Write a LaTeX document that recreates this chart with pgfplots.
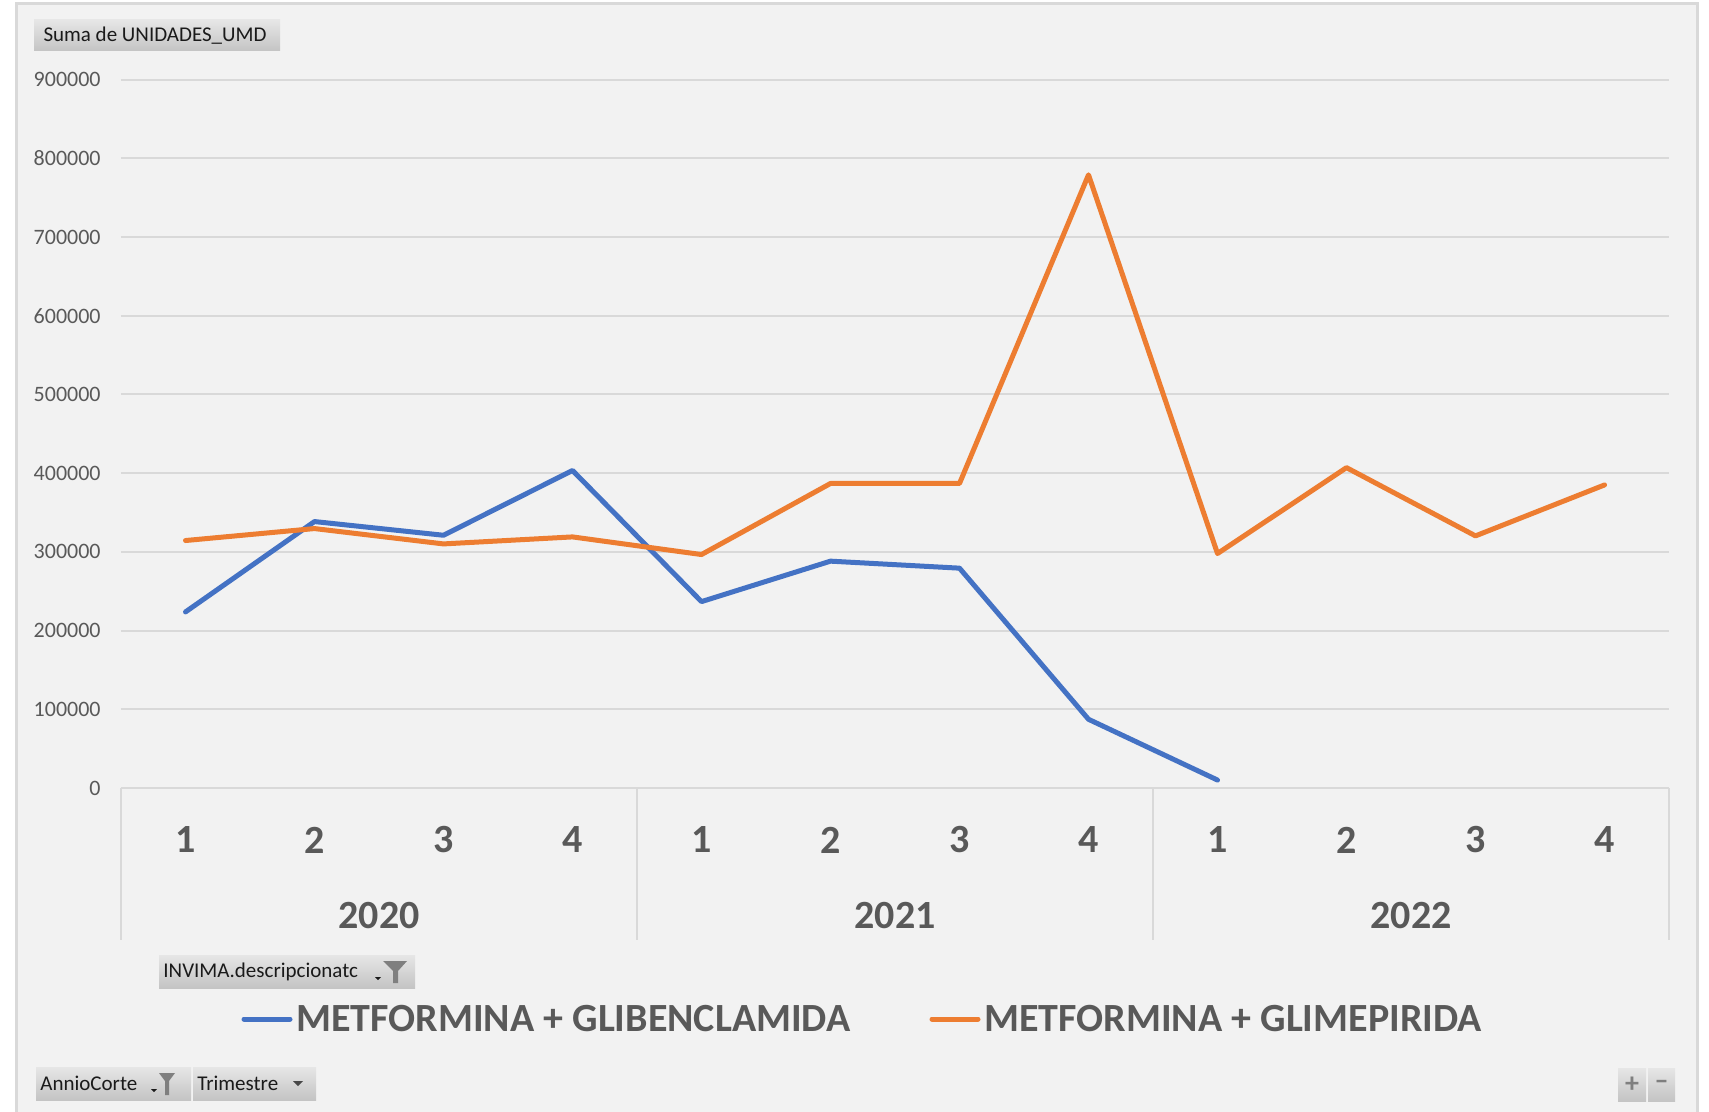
\documentclass[border=0pt]{standalone}
\usepackage{fontspec}
\setmainfont{Carlito}
\usepackage{pgfplots}
\pgfplotsset{compat=1.18}
\definecolor{bgc}{HTML}{F2F2F2}
\definecolor{gridc}{HTML}{D9D9D9}
\definecolor{txt}{HTML}{595959}
\definecolor{blueS}{HTML}{4472C4}
\definecolor{orangeS}{HTML}{ED7D31}
\definecolor{btnTop}{HTML}{E6E6E6}
\definecolor{btnBot}{HTML}{C4C4C4}
\definecolor{iconc}{HTML}{7F7F7F}
\definecolor{btntxt}{HTML}{1A1A1A}

\begin{document}
\begin{tikzpicture}[x=0.5pt,y=-0.5pt]
\fill[white] (0,0) rectangle (1709,1112);
\fill[bgc] (16,4) rectangle (1697,1112);
\draw[gridc, line width=1.5pt] (16,1112) -- (16,4) -- (1697,4) -- (1697,1112);

\begin{axis}[
  at={(60.5pt,-394pt)}, anchor=south west,
  scale only axis, width=774pt, height=354.2pt,
  xmin=-0.5, xmax=11.5, ymin=0, ymax=900000,
  axis line style={draw=none},
  scaled y ticks=false,
  ytick={0,100000,200000,300000,400000,500000,600000,700000,800000,900000},
  yticklabels={0,100000,200000,300000,400000,500000,600000,700000,800000,900000},
  ymajorgrids, major grid style={gridc, line width=1pt},
  major tick length=0pt,
  xtick={0,1,2,3,4,5,6,7,8,9,10,11},
  xticklabels={1,2,3,4,1,2,3,4,1,2,3,4},
  xticklabel style={anchor=center, yshift=-26pt, font=\fontsize{20}{24}\selectfont\bfseries, text=txt},
  yticklabel style={anchor=east, inner sep=0pt, xshift=-10pt, font=\fontsize{11}{13}\selectfont, text=txt},
  clip=false,
]
\draw[gridc, line width=1pt] (axis cs:-0.5,0) -- ++(0pt,-75.75pt);
\draw[gridc, line width=1pt] (axis cs:3.5,0) -- ++(0pt,-75.75pt);
\draw[gridc, line width=1pt] (axis cs:7.5,0) -- ++(0pt,-75.75pt);
\draw[gridc, line width=1pt] (axis cs:11.5,0) -- ++(0pt,-75.75pt);
\node[font=\fontsize{20}{24}\selectfont\bfseries, text=txt] at ([yshift=-63.75pt]axis cs:1.5,0) {2020};
\node[font=\fontsize{20}{24}\selectfont\bfseries, text=txt] at ([yshift=-63.75pt]axis cs:5.5,0) {2021};
\node[font=\fontsize{20}{24}\selectfont\bfseries, text=txt] at ([yshift=-63.75pt]axis cs:9.5,0) {2022};

\addplot[blueS, line width=2.5pt, line cap=round, line join=round] coordinates {
 (0,223700) (1,338500) (2,321100) (3,403400) (4,236800) (5,288200) (6,279300) (7,87300) (8,10100)};
\addplot[orangeS, line width=2.5pt, line cap=round, line join=round] coordinates {
 (0,314400) (1,329600) (2,310100) (3,319000) (4,296600) (5,386900) (6,386900) (7,779000) (8,297900) (9,407000) (10,320300) (11,385000)};
\end{axis}

% legend
\draw[blueS, line width=2.5pt, line cap=round] (244,1019) -- (290,1019);
\node[anchor=west, inner sep=0pt, font=\fontsize{20}{24}\selectfont\bfseries, text=txt] at (296,1019) {METFORMINA + GLIBENCLAMIDA};
\draw[orangeS, line width=2.5pt, line cap=round] (932,1019) -- (978,1019);
\node[anchor=west, inner sep=0pt, font=\fontsize{20}{24}\selectfont\bfseries, text=txt] at (984,1019) {METFORMINA + GLIMEPIRIDA};

% field buttons
\shade[top color=btnTop, bottom color=btnBot] (34,20) rectangle (280,51);
\node[anchor=center, inner sep=0pt, font=\fontsize{10.5}{12}\selectfont, text=btntxt] at (155,35.5) {Suma de UNIDADES\_UMD};

\shade[top color=btnTop, bottom color=btnBot] (159,955) rectangle (415,988);
\node[anchor=west, inner sep=0pt, font=\fontsize{10.5}{12}\selectfont, text=btntxt] at (163,971.5) {INVIMA.descripcionatc};
\fill[iconc] (383,961) -- (407,961) -- (398,971) -- (398,983) -- (393,983) -- (393,971) -- cycle;
\fill[btntxt] (375,977) -- (381,977) -- (378,980) -- cycle;

\shade[top color=btnTop, bottom color=btnBot] (36,1067) rectangle (191,1100);
\node[anchor=west, inner sep=0pt, font=\fontsize{10.5}{12}\selectfont, text=btntxt] at (40,1083.5) {AnnioCorte};
\fill[iconc] (159,1073) -- (175,1073) -- (169,1081) -- (169,1095) -- (165,1095) -- (165,1081) -- cycle;
\fill[btntxt] (151,1089) -- (157,1089) -- (154,1092) -- cycle;

\shade[top color=btnTop, bottom color=btnBot] (193,1067) rectangle (316,1100);
\node[anchor=west, inner sep=0pt, font=\fontsize{10.5}{12}\selectfont, text=btntxt] at (197,1083.5) {Trimestre};
\fill[btntxt!80] (293,1081) -- (303,1081) -- (298,1086) -- cycle;

\shade[top color=btnTop, bottom color=btnBot] (1618,1068) rectangle (1646,1101);
\shade[top color=btnTop, bottom color=btnBot] (1648,1068) rectangle (1675,1101);
\node[inner sep=0pt, font=\fontsize{14}{16}\selectfont\bfseries, text=iconc] at (1632,1084.5) {+};
\node[inner sep=0pt, font=\fontsize{14}{16}\selectfont\bfseries, text=iconc] at (1661.5,1084.5) {–};

\pgfresetboundingbox
\useasboundingbox (0,0) rectangle (1709,1112);
\end{tikzpicture}
\end{document}
